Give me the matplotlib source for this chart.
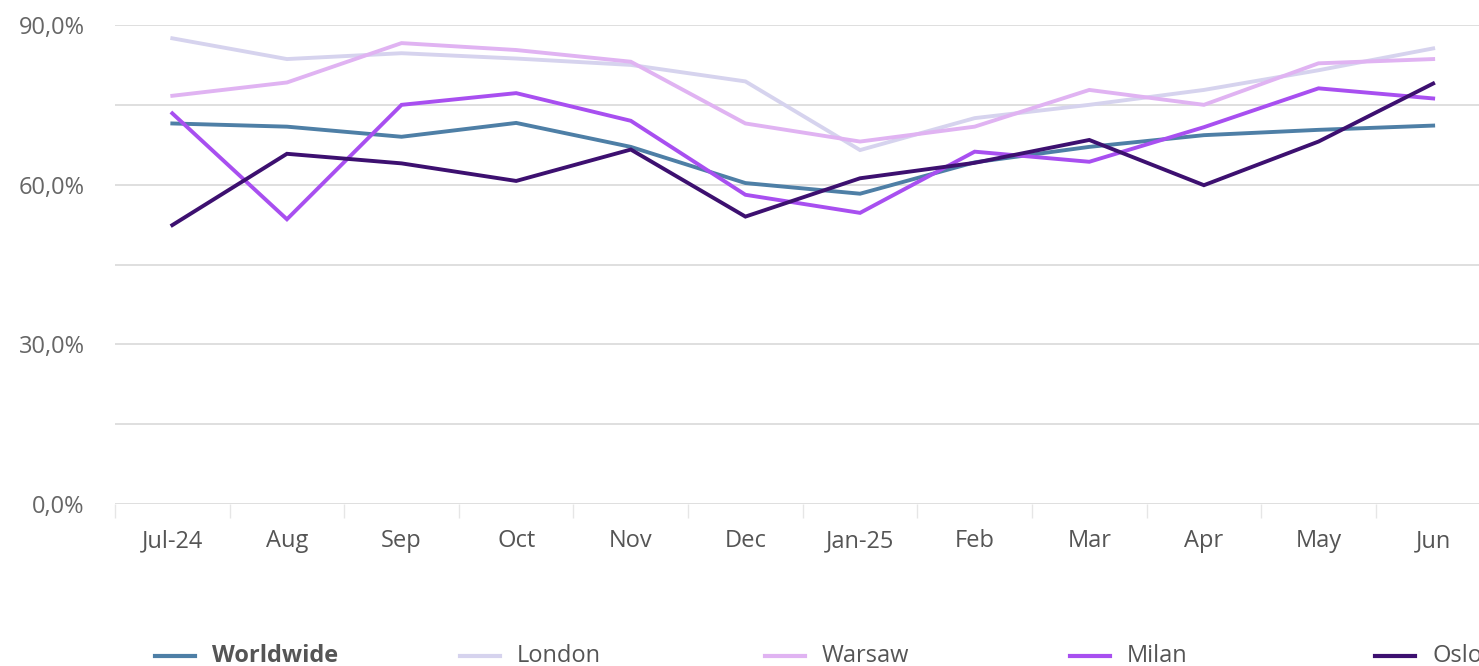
import matplotlib
matplotlib.use("Agg")
import matplotlib.pyplot as plt
from matplotlib.lines import Line2D
from matplotlib.ticker import FuncFormatter, MultipleLocator, FixedLocator

plt.rcParams['font.family'] = ['Open Sans', 'DejaVu Sans']

months = ["Jul-24", "Aug", "Sep", "Oct", "Nov", "Dec", "Jan-25", "Feb", "Mar", "Apr", "May", "Jun"]
worldwide = [71.5, 70.9, 69.0, 71.6, 67.1, 60.3, 58.3, 64.2, 67.1, 69.3, 70.3, 71.1]
london    = [87.5, 83.6, 84.7, 83.7, 82.5, 79.4, 66.5, 72.5, 75.0, 77.8, 81.5, 85.6]
warsaw    = [76.7, 79.2, 86.6, 85.3, 83.1, 71.5, 68.1, 70.9, 77.8, 75.0, 82.8, 83.6]
milan     = [73.4, 53.5, 75.0, 77.2, 72.0, 58.1, 54.7, 66.2, 64.3, 70.8, 78.1, 76.2]
oslo      = [52.4, 65.8, 64.0, 60.7, 66.6, 54.0, 61.2, 64.1, 68.4, 59.9, 68.1, 79.0]

series = [
    ("Worldwide", worldwide, "#4e7fa6", True),
    ("London", london, "#d6d3ee", False),
    ("Warsaw", warsaw, "#e0b3f2", False),
    ("Milan", milan, "#a84ff0", False),
    ("Oslo", oslo, "#3d1070", False),
]

W, H = 1479, 666
fig = plt.figure(figsize=(W / 100, H / 100), dpi=100)
left, right, top, bottom = 115, 1479, 25, 504
ax = fig.add_axes([left / W, (H - bottom) / H, (right - left) / W, (bottom - top) / H])

x = list(range(len(months)))
for name, vals, color, _ in series:
    ax.plot(x, vals, color=color, lw=2.8, solid_joinstyle="miter", zorder=3)

ax.set_ylim(0, 90)
ax.set_xlim(-0.5, 11.4)
ax.yaxis.set_major_locator(MultipleLocator(15))
ax.yaxis.set_major_formatter(FuncFormatter(lambda v, p: (f"{v:.1f}%".replace(".", ",")) if v % 30 == 0 else ""))
ax.grid(axis="y", color="#dcdcdc", lw=1.3, zorder=0)
for s in ax.spines.values():
    s.set_visible(False)
ax.tick_params(axis="y", length=0, pad=22, labelsize=17, labelcolor="#666666")

ax.set_xticks(x)
ax.set_xticklabels(months)
ax.xaxis.set_minor_locator(FixedLocator([i - 0.5 for i in range(len(months) + 1)]))
ax.tick_params(axis="x", which="major", length=0, pad=18, labelsize=17, labelcolor="#555555")
ax.tick_params(axis="x", which="minor", length=10, color="#e6e6e6", width=1)
for lbl in ax.get_yticklabels():
    lbl.set_horizontalalignment("right")

# legend
leg_y = 1 - 656 / H
line_x = [155, 460, 765, 1070, 1375]
for (name, vals, color, bold), lx in zip(series, line_x):
    fig.add_artist(Line2D([lx / W, (lx + 40) / W], [leg_y, leg_y], color=color, lw=3, transform=fig.transFigure))
    fig.text((lx + 57) / W, leg_y, name, fontsize=17, color="#555555",
             fontweight="bold" if bold else "normal", va="center", ha="left")

fig.savefig("out.png", dpi=100, facecolor="white")
